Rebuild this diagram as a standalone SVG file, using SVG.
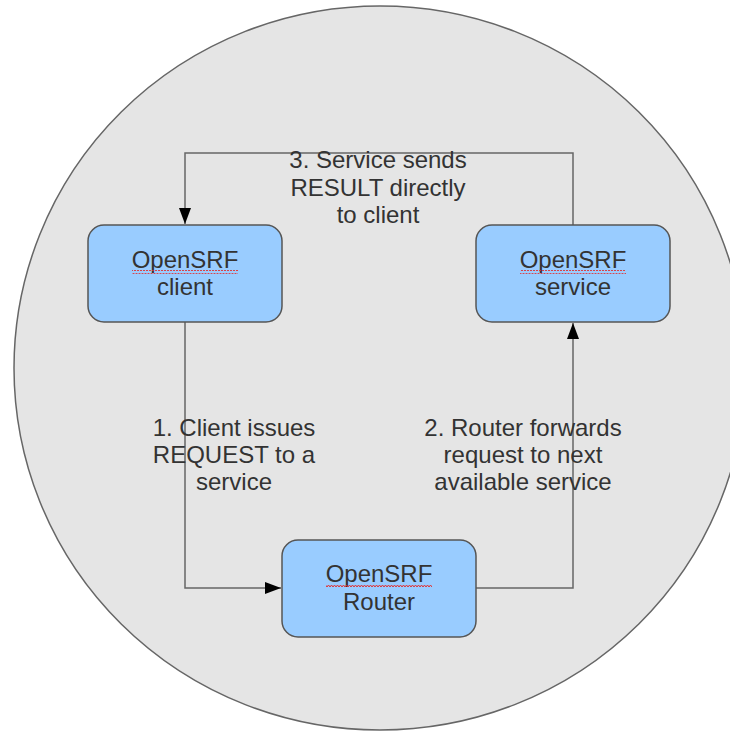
<svg xmlns="http://www.w3.org/2000/svg" width="730" height="731" viewBox="0 0 730 731">
<defs>
<style>
.node rect{fill:#99ccff;stroke:#555;stroke-width:1.5}
.t{font-family:"Liberation Sans",Arial,sans-serif;font-size:24px;fill:#333;text-anchor:middle}
.c{fill:none;stroke:#666;stroke-width:1.5}
.node rect.sq{stroke:none;fill:url(#wave)}
</style>
<marker id="ah" markerWidth="16" markerHeight="12" refX="16" refY="6" orient="auto" markerUnits="userSpaceOnUse">
<path d="M0,0 L16,6 L0,12 Z" fill="#000"/>
</marker>
<pattern id="wave" width="6" height="4" patternUnits="userSpaceOnUse">
<path d="M0,3 L1.5,1 L3,3 L4.5,1 L6,3" fill="none" stroke="#e03030" stroke-width="1"/>
</pattern>
</defs>
<ellipse cx="380" cy="368" rx="366" ry="362" fill="#e5e5e5" stroke="#666" stroke-width="1.5"/>
<g id="connectors">
<path class="c" d="M573,225 V153 H185 V224" marker-end="url(#ah)"/>
<path class="c" d="M185,322 V588 H281" marker-end="url(#ah)"/>
<path class="c" d="M476,588 H573 V323" marker-end="url(#ah)"/>
</g>
<g id="label3">
<text class="t" x="378" y="168">3. Service sends</text>
<text class="t" x="378" y="196">RESULT directly</text>
<text class="t" x="378" y="223">to client</text>
</g>
<g id="label1">
<text class="t" x="234" y="436">1. Client issues</text>
<text class="t" x="234" y="463">REQUEST to a</text>
<text class="t" x="234" y="490">service</text>
</g>
<g id="label2">
<text class="t" x="523" y="436">2. Router forwards</text>
<text class="t" x="523" y="463">request to next</text>
<text class="t" x="523" y="490">available service</text>
</g>
<g id="client" class="node">
<rect x="88" y="225" width="194" height="97" rx="16"/>
<text class="t" x="185" y="268">OpenSRF</text>
<text class="t" x="185" y="295">client</text>
<rect class="sq" x="132" y="270" width="106" height="4"/>
</g>
<g id="service" class="node">
<rect x="476" y="225" width="194" height="97" rx="16"/>
<text class="t" x="573" y="268">OpenSRF</text>
<text class="t" x="573" y="295">service</text>
<rect class="sq" x="520" y="270" width="106" height="4"/>
</g>
<g id="router" class="node">
<rect x="282" y="540" width="194" height="97" rx="16"/>
<text class="t" x="379" y="582">OpenSRF</text>
<text class="t" x="379" y="610">Router</text>
<rect class="sq" x="326" y="584" width="106" height="4"/>
</g>
</svg>
